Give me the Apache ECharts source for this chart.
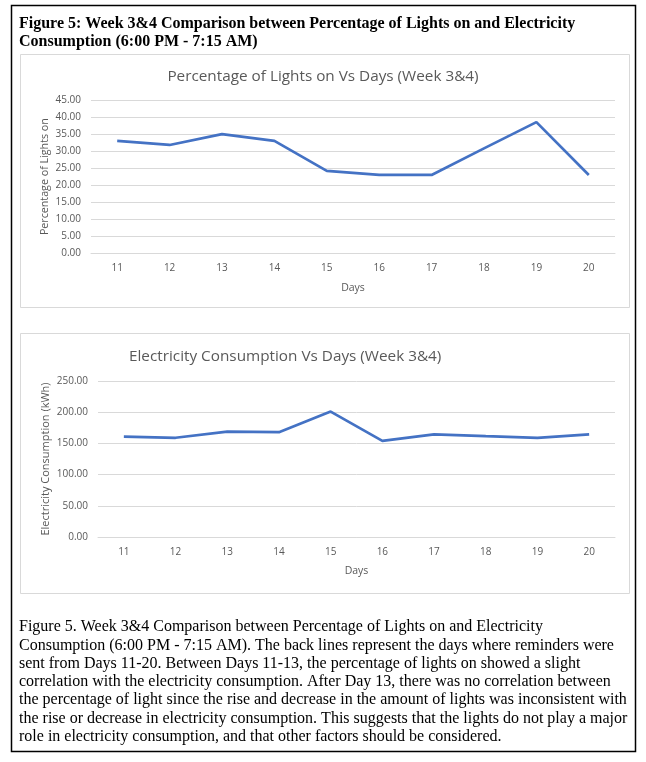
<!DOCTYPE html>
<html>
<head>
<meta charset="utf-8">
<script src="https://cdn.jsdelivr.net/npm/echarts@6/dist/echarts.min.js"></script>
<style>
html,body{margin:0;padding:0;background:#fff;}
#c{width:646px;height:762px;}
</style>
</head>
<body>
<div id="c"></div>
<script>
const days = ['11','12','13','14','15','16','17','18','19','20'];
const lightsPct = [33.0, 31.8, 35.0, 33.0, 24.2, 23.0, 23.0, 30.8, 38.5, 23.0];
const electricity = [160.7, 159.0, 169.0, 168.0, 201.0, 154.0, 164.5, 161.5, 159.0, 164.5];
const yTicks1 = {min: 0, max: 45, interval: 5};
const yTicks2 = {min: 0, max: 250, interval: 50};
const figTitle = ['Figure 5: Week 3&4 Comparison between Percentage of Lights on and Electricity',
                  'Consumption (6:00 PM - 7:15 AM)'];
const chart1Title = 'Percentage of Lights on Vs Days (Week 3&4)';
const chart2Title = 'Electricity Consumption Vs Days (Week 3&4)';
const caption = [
 'Figure 5. Week 3&4 Comparison between Percentage of Lights on and Electricity',
 'Consumption (6:00 PM - 7:15 AM). The back lines represent the days where reminders were',
 'sent from Days 11-20. Between Days 11-13, the percentage of lights on showed a slight',
 'correlation with the electricity consumption. After Day 13, there was no correlation between',
 'the percentage of light since the rise and decrease in the amount of lights was inconsistent with',
 'the rise or decrease in electricity consumption. This suggests that the lights do not play a major',
 'role in electricity consumption, and that other factors should be considered.'
];

const sans = '"Open Sans", "Noto Sans", sans-serif';
const serif = '"Liberation Serif", "DejaVu Serif", serif';
const grey = '#595959';
const gridCol = '#d9d9d9';
const lineCol = '#4472C4';

const chart = echarts.init(document.getElementById('c'));

function xAxisCfg(gi){
  return {
    gridIndex: gi, type: 'category', data: days, boundaryGap: true,
    name: 'Days', nameLocation: 'middle', nameGap: 29,
    nameTextStyle: {color: grey, fontFamily: sans, fontSize: 10.5},
    axisLine: {show: true, lineStyle: {color: gridCol, width: 1}},
    axisTick: {show: false},
    axisLabel: {color: grey, fontFamily: sans, fontSize: 10, margin: 10}
  };
}
function yAxisCfg(gi, t, name, gap, nsize){
  return {
    gridIndex: gi, type: 'value', min: t.min, max: t.max, interval: t.interval,
    name: name, nameLocation: 'middle', nameGap: gap, nameRotate: 90,
    nameMoveOverlap: false,
    nameTextStyle: {color: grey, fontFamily: sans, fontSize: nsize},
    axisLine: {show: false}, axisTick: {show: false},
    axisLabel: {color: grey, fontFamily: sans, fontSize: 10, margin: 10,
                formatter: v => v.toFixed(2)},
    splitLine: {show: true, lineStyle: {color: gridCol, width: 1}}
  };
}

const graphics = [
  {type: 'rect', shape: {x: 11.5, y: 5.5, width: 624, height: 746}, style: {fill: 'none', stroke: '#000', lineWidth: 1.5}, silent: true},
  {type: 'rect', shape: {x: 20.5, y: 54.5, width: 609, height: 253}, style: {fill: 'none', stroke: gridCol, lineWidth: 1}, silent: true},
  {type: 'rect', shape: {x: 20.5, y: 333.5, width: 609, height: 260}, style: {fill: 'none', stroke: gridCol, lineWidth: 1}, silent: true}
];
figTitle.forEach((t, i) => graphics.push({
  type: 'text', left: 19, top: 16 + i * 18,
  style: {text: t, font: 'bold 16px ' + serif, fill: '#000'}, silent: true
}));
caption.forEach((t, i) => graphics.push({
  type: 'text', left: 19, top: 619 + i * 18.3,
  style: {text: t, font: '16px ' + serif, fill: '#000'}, silent: true
}));

chart.setOption({
  animation: false,
  backgroundColor: '#fff',
  title: [
    {text: chart1Title, left: 'center', top: 64,
     textStyle: {color: grey, fontFamily: sans, fontSize: 15.3, fontWeight: 'normal'}},
    {text: chart2Title, left: 124, top: 344,
     textStyle: {color: grey, fontFamily: sans, fontSize: 15.3, fontWeight: 'normal'}}
  ],
  grid: [
    {left: 91, right: 31, top: 100, height: 153.3},
    {left: 98, right: 31, top: 381, height: 156}
  ],
  xAxis: [xAxisCfg(0), xAxisCfg(1)],
  yAxis: [yAxisCfg(0, yTicks1, 'Percentage of Lights on', 41, 10.7),
          yAxisCfg(1, yTicks2, 'Electricity Consumption (kWh)', 47, 11)],
  series: [
    {type: 'line', xAxisIndex: 0, yAxisIndex: 0, data: lightsPct, symbol: 'none',
     lineStyle: {color: lineCol, width: 2.7}, itemStyle: {color: lineCol}},
    {type: 'line', xAxisIndex: 1, yAxisIndex: 1, data: electricity, symbol: 'none',
     lineStyle: {color: lineCol, width: 2.7}, itemStyle: {color: lineCol}}
  ],
  graphic: graphics
});
</script>
</body>
</html>
